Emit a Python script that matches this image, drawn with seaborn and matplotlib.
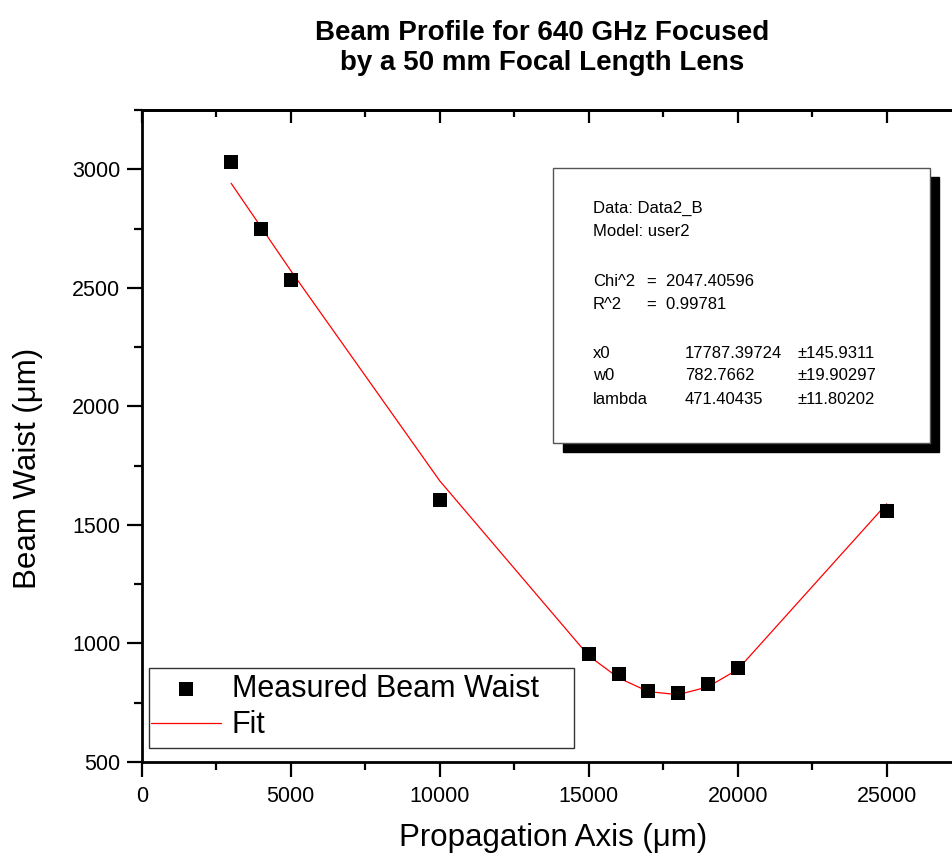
import numpy as np
import pandas as pd
import matplotlib
matplotlib.use("Agg")
import matplotlib.pyplot as plt
import seaborn as sns
from matplotlib.patches import Rectangle
from matplotlib.ticker import MultipleLocator

# ---- data ----
x_meas = [3000, 4000, 5000, 10000, 15000, 16000, 17000, 18000, 19000, 20000, 25000]
y_meas = [3030, 2750, 2535, 1605, 955, 870, 800, 790, 830, 898, 1560]
x_fit = [3000, 4000, 5000, 10000, 15000, 16000, 17000, 18000, 19000, 20000, 25000]
y_fit = [2941, 2757, 2573, 1686, 948, 855, 797, 784, 817, 890, 1589]

title_text = "Beam Profile for 640 GHz Focused\nby a 50 mm Focal Length Lens"
xlabel_text = "Propagation Axis (\u03bcm)"
ylabel_text = "Beam Waist (\u03bcm)"
legend_labels = ["Measured Beam Waist", "Fit"]
info_rows = [
    ("Data: Data2_B", "", ""),
    ("Model: user2", "", ""),
    ("Chi^2", "=  2047.40596", ""),
    ("R^2", "=  0.99781", ""),
    ("x0", "17787.39724", "\u00b1145.9311"),
    ("w0", "782.7662", "\u00b119.90297"),
    ("lambda", "471.40435", "\u00b111.80202"),
]

sns.set_theme(style="ticks")
plt.rcParams["font.family"] = ["Liberation Sans", "DejaVu Sans"]
plt.rcParams["text.color"] = "black"
plt.rcParams["axes.labelcolor"] = "black"
plt.rcParams["xtick.color"] = "black"
plt.rcParams["ytick.color"] = "black"

W, H = 952, 859
fig = plt.figure(figsize=(W / 100, H / 100), dpi=100)

def fx(px):
    return px / W

def fy(py):
    return 1 - py / H

xmin, xmax = 0, 27500
ax_left = 141.7
ax_w = (xmax - xmin) * 0.0298
ax = fig.add_axes([fx(ax_left), fy(762), fx(ax_w), (762 - 110) / H])

df_m = pd.DataFrame({"x": x_meas, "y": y_meas})
df_f = pd.DataFrame({"x": x_fit, "y": y_fit})

sns.lineplot(data=df_f, x="x", y="y", ax=ax, color="red", linewidth=0.9,
             label=legend_labels[1], zorder=2)
sns.scatterplot(data=df_m, x="x", y="y", ax=ax, marker="s", s=95, color="black",
                edgecolor="black", linewidth=0, label=legend_labels[0], zorder=3)

ax.set_xlim(xmin, xmax)
ax.set_ylim(500, 3250)
ax.xaxis.set_major_locator(MultipleLocator(5000))
ax.xaxis.set_minor_locator(MultipleLocator(2500))
ax.yaxis.set_major_locator(MultipleLocator(500))
ax.yaxis.set_minor_locator(MultipleLocator(250))

for sp in ["left", "bottom", "top"]:
    ax.spines[sp].set_linewidth(2.0)
    ax.spines[sp].set_color("black")
ax.spines["right"].set_visible(False)

ax.tick_params(axis="both", which="major", direction="out", length=10.5, width=1.6,
               labelsize=15.5, colors="black", pad=5)
ax.tick_params(axis="x", which="major", pad=7)
ax.tick_params(axis="both", which="minor", direction="out", length=5.5, width=1.6, colors="black")
ax.tick_params(top=False, right=False)

sec = ax.secondary_xaxis("top")
sec.xaxis.set_major_locator(MultipleLocator(5000))
sec.xaxis.set_minor_locator(MultipleLocator(2500))
sec.tick_params(axis="x", which="major", direction="in", length=9.5, width=1.6, labeltop=False,
                colors="black")
sec.tick_params(axis="x", which="minor", direction="in", length=5, width=1.6, colors="black")
sec.spines["top"].set_linewidth(2.0)
sec.spines["top"].set_color("black")

ax.set_xlabel("")
ax.set_ylabel("")
fig.text(fx(553), fy(838), xlabel_text, ha="center", va="center", fontsize=22.5, color="black")
fig.text(fx(28), fy(468), ylabel_text, ha="center", va="center", fontsize=22.5, rotation=90,
         color="black")
fig.text(fx(542), fy(48), title_text, ha="center", va="center", fontsize=20,
         fontweight="bold", linespacing=1.2, color="black")

# legend frame drawn as a patch, legend content placed inside
leg_frame = Rectangle((fx(149), fy(748)), fx(574 - 149), (748 - 668) / H,
                      transform=fig.transFigure, facecolor="white", edgecolor="#333333",
                      linewidth=1.0, zorder=4)
ax.add_patch(leg_frame)
leg_frame.set_clip_on(False)

handles, labels = ax.get_legend_handles_labels()
order = [labels.index(legend_labels[0]), labels.index(legend_labels[1])]
leg = ax.legend([handles[i] for i in order], [labels[i] for i in order],
                loc="center left", bbox_to_anchor=(fx(151), fy(707)),
                bbox_transform=fig.transFigure, fontsize=22, frameon=False,
                borderpad=0, handlelength=2.3, handletextpad=0.35, labelspacing=0.22,
                borderaxespad=0, markerscale=1.0)
leg.set_zorder(6)
for t in leg.get_texts():
    t.set_color("black")

# info box with shadow
shadow = Rectangle((fx(563), fy(452)), fx(939 - 563), (452 - 177) / H, transform=fig.transFigure,
                   facecolor="black", edgecolor="black", zorder=5)
box = Rectangle((fx(553), fy(443)), fx(930 - 553), (443 - 168) / H, transform=fig.transFigure,
                facecolor="white", edgecolor="#555555", linewidth=1.0, zorder=6)
fig.patches.extend([shadow, box])

row_y = [208, 231, 281, 304, 353, 376, 399]
for (a, b, c), yy in zip(info_rows, row_y):
    fig.text(fx(593), fy(yy), a, ha="left", va="center", fontsize=12, zorder=7, color="black")
    if b:
        bx = 647 if b.startswith("=") else 685
        fig.text(fx(bx), fy(yy), b, ha="left", va="center", fontsize=12, zorder=7, color="black")
    if c:
        fig.text(fx(798), fy(yy), c, ha="left", va="center", fontsize=12, zorder=7, color="black")

fig.savefig("out.png", dpi=100)
